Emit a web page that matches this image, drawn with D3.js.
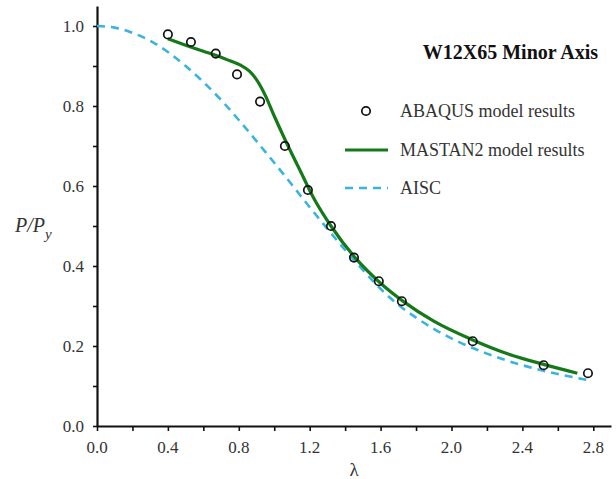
<!DOCTYPE html>
<html>
<head>
<meta charset="utf-8">
<script src="https://cdn.jsdelivr.net/npm/d3@7"></script>
</head>
<body style="margin:0">
<svg id="chart" width="616" height="479"></svg>
<script>
// ABAQUS points (lambda, P/Py)
var abaqusL = [0.40, 0.53, 0.67, 0.79, 0.92, 1.06, 1.19, 1.32, 1.45, 1.59, 1.72, 2.12, 2.52, 2.77];
var abaqusP = [0.979, 0.96, 0.931, 0.879, 0.811, 0.70, 0.59, 0.50, 0.421, 0.362, 0.312, 0.212, 0.152, 0.132];

// MASTAN2 curve
var mastanL = [0.40, 0.50, 0.60, 0.67, 0.75, 0.81, 0.86, 0.90, 0.95, 1.00, 1.06, 1.15, 1.22, 1.32, 1.46, 1.60, 1.73, 1.90, 2.12, 2.30, 2.52, 2.71];
var mastanP = [0.968, 0.952, 0.937, 0.927, 0.913, 0.902, 0.887, 0.866, 0.826, 0.775, 0.717, 0.635, 0.572, 0.50, 0.419, 0.357, 0.311, 0.262, 0.215, 0.183, 0.154, 0.132];

// AISC curve
var aiscL = [0.0, 0.1, 0.2, 0.3, 0.4, 0.5, 0.6, 0.7, 0.8, 0.9, 1.0, 1.1, 1.2, 1.3, 1.4, 1.5, 1.6, 1.7, 1.8, 1.9, 2.0, 2.2, 2.4, 2.6, 2.78];
var aiscP = [1.0, 0.996, 0.983, 0.963, 0.935, 0.90, 0.86, 0.815, 0.765, 0.712, 0.658, 0.603, 0.547, 0.493, 0.44, 0.39, 0.343, 0.303, 0.271, 0.243, 0.219, 0.181, 0.152, 0.130, 0.114];

var xMajor = [0.0, 0.4, 0.8, 1.2, 1.6, 2.0, 2.4, 2.8];
var xMinor = [0.2, 0.6, 1.0, 1.4, 1.8, 2.2, 2.6];
var yMajor = [0.0, 0.2, 0.4, 0.6, 0.8, 1.0];
var yMinor = [0.1, 0.3, 0.5, 0.7, 0.9];

var legendNames = ["ABAQUS model results", "MASTAN2 model results", "AISC"];

var green = "#15791a";
var blue = "#3ab3e0";

var svg = d3.select("#chart");

var x = d3.scaleLinear().domain([0, 2.9]).range([97, 611]);
var y = d3.scaleLinear().domain([0, 1.05]).range([426, 6]);

// plain serif text helper
function label(parent, px, py, str, size) {
    return parent.append("text")
        .attr("x", px).attr("y", py)
        .attr("font-family", "Liberation Serif")
        .attr("font-size", size)
        .attr("fill", "#333")
        .text(str);
}

// axes: lines and ticks from the axis generator, labels drawn by hand
var xg = svg.append("g").attr("transform", "translate(0," + y(0) + ")")
    .call(d3.axisBottom(x).tickValues(xMajor.concat(xMinor)).tickFormat("").tickSize(5).tickSizeOuter(0));
var yg = svg.append("g").attr("transform", "translate(" + x(0) + ",0)")
    .call(d3.axisLeft(y).tickValues(yMajor.concat(yMinor)).tickFormat("").tickSize(4).tickSizeOuter(0));
svg.selectAll(".tick text").remove();
svg.selectAll(".domain").attr("stroke", "#111").attr("stroke-width", 2.2);
svg.selectAll(".tick line").attr("stroke", "#111").attr("stroke-width", 1.6);

xMajor.forEach(function(v) {
    label(svg, x(v), y(0) + 27, d3.format(".1f")(v), 17).attr("text-anchor", "middle");
});
yMajor.forEach(function(v) {
    label(svg, x(0) - 13, y(v) + 6, d3.format(".1f")(v), 17).attr("text-anchor", "end");
});

var line = d3.line().x(function(d){ return x(d[0]); }).y(function(d){ return y(d[1]); })
    .curve(d3.curveMonotoneX);

// AISC dashed
svg.append("path")
    .datum(aiscL.map(function(v, i){ return [v, aiscP[i]]; }))
    .attr("d", line)
    .attr("fill", "none")
    .attr("stroke", blue)
    .attr("stroke-width", 2.6)
    .attr("stroke-dasharray", "8,6");

svg.append("path")
    .datum(mastanL.map(function(v, i){ return [v, mastanP[i]]; }))
    .attr("d", line)
    .attr("fill", "none")
    .attr("stroke", green)
    .attr("stroke-width", 3.2);

svg.selectAll("circle.pt")
    .data(abaqusL.map(function(v, i){ return [v, abaqusP[i]]; }))
    .enter().append("circle")
    .attr("class", "pt")
    .attr("cx", function(d){ return x(d[0]); })
    .attr("cy", function(d){ return y(d[1]); })
    .attr("r", 4.2)
    .attr("fill", "none")
    .attr("stroke", "#111")
    .attr("stroke-width", 1.7);

// title + legend
label(svg, 598, 59, "W12X65 Minor Axis", 20)
    .attr("text-anchor", "end")
    .attr("font-weight", "bold")
    .attr("fill", "#111");

var rowY = [111, 150, 188];
svg.append("circle").attr("cx", 366).attr("cy", rowY[0]).attr("r", 4.2)
    .attr("fill", "none").attr("stroke", "#111").attr("stroke-width", 1.7);
svg.append("line").attr("x1", 345).attr("x2", 388).attr("y1", rowY[1]).attr("y2", rowY[1])
    .attr("stroke", green).attr("stroke-width", 3.2);
svg.append("line").attr("x1", 345).attr("x2", 388).attr("y1", rowY[2]).attr("y2", rowY[2])
    .attr("stroke", blue).attr("stroke-width", 2.6).attr("stroke-dasharray", "8,6");
legendNames.forEach(function(d, i) {
    label(svg, 400, rowY[i] + 6, d, 18);
});

// axis titles
label(svg, x(1.45), 476, "λ", 19).attr("text-anchor", "middle");

var yl = label(svg, 15, 232, "", 20).attr("font-style", "italic");
yl.append("tspan").text("P/P");
yl.append("tspan").attr("dy", 7).attr("font-size", 15).text("y");
</script>
</body>
</html>
